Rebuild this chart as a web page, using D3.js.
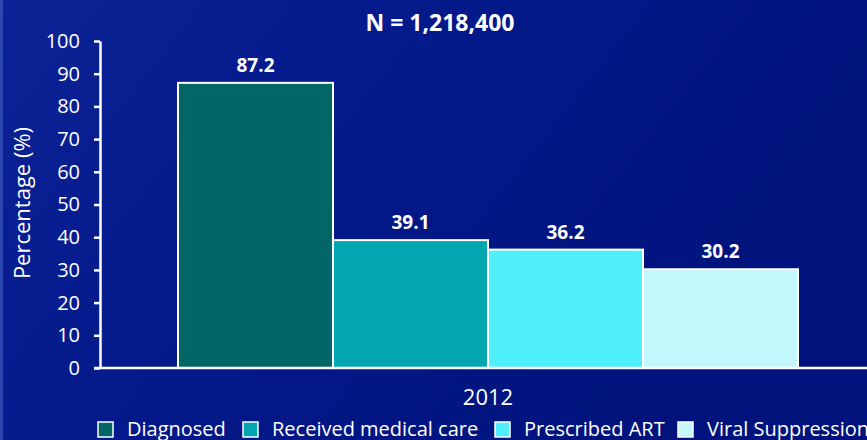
<!DOCTYPE html>
<html>
<head>
<meta charset="utf-8">
<script src="https://cdn.jsdelivr.net/npm/d3@7"></script>
<style>
  body { margin: 0; background: #001480; }
  svg { display: block; font-family: "Open Sans", "Noto Sans", sans-serif; }
</style>
</head>
<body>
<div id="chart"></div>
<script>
const years = ["2012"];
const stages = ["Diagnosed", "Received medical care", "Prescribed ART", "Viral Suppression"];
const values = [87.2, 39.1, 36.2, 30.2];
const colors = ["#036666", "#02a6b0", "#50effc", "#c2f8fc"];
const yTicks = [0, 10, 20, 30, 40, 50, 60, 70, 80, 90, 100];
const title = "N = 1,218,400";

const W = 867, H = 440;
const margin = { top: 41, right: 0, bottom: 72, left: 100 };

const svg = d3.select("#chart")
  .append("svg")
  .attr("width", W)
  .attr("height", H);

// background gradient
const defs = svg.append("defs");
const grad = defs.append("linearGradient")
  .attr("id", "bg")
  .attr("x1", "0").attr("y1", "0")
  .attr("x2", "1").attr("y2", "0.4");
grad.append("stop").attr("offset", "0").attr("stop-color", "#0c2396");
grad.append("stop").attr("offset", "0.45").attr("stop-color", "#04198a");
grad.append("stop").attr("offset", "1").attr("stop-color", "#00137c");

svg.append("rect").attr("width", W).attr("height", H).attr("fill", "url(#bg)");
svg.append("rect").attr("width", 3).attr("height", H).attr("fill", "#2b46b0");

const y = d3.scaleLinear().domain([0, 100]).range([368, margin.top]);

const x0 = d3.scaleBand()
  .domain(years)
  .range([margin.left, 876])
  .paddingOuter(0.1258)
  .paddingInner(0);

const x1 = d3.scaleBand()
  .domain(stages)
  .range([0, x0.bandwidth()]);

const color = d3.scaleOrdinal().domain(stages).range(colors);

const rows = stages.map((s, i) => ({ stage: s, value: values[i] }));

// bars
const g = svg.append("g")
  .selectAll("g")
  .data(years)
  .join("g")
  .attr("transform", d => `translate(${x0(d)},0)`);

g.selectAll("rect")
  .data(rows)
  .join("rect")
  .attr("x", d => x1(d.stage))
  .attr("y", d => y(d.value))
  .attr("width", x1.bandwidth())
  .attr("height", d => y(0) - y(d.value))
  .attr("fill", d => color(d.stage))
  .attr("stroke", "#ffffff")
  .attr("stroke-width", 2);

g.selectAll("text.val")
  .data(rows)
  .join("text")
  .attr("class", "val")
  .attr("x", d => x1(d.stage) + x1.bandwidth() / 2)
  .attr("y", d => y(d.value) - 11)
  .attr("text-anchor", "middle")
  .attr("fill", "#ffffff")
  .attr("font-size", 19)
  .attr("font-weight", "bold")
  .text(d => d.value.toFixed(1));

// y axis
const yAxis = svg.append("g")
  .attr("transform", `translate(${margin.left},0)`)
  .call(d3.axisLeft(y).tickValues(yTicks).tickSize(6).tickPadding(14).tickSizeOuter(0));
yAxis.select(".domain").attr("stroke", "#ffffff").attr("stroke-width", 2.5);
yAxis.selectAll(".tick line").attr("stroke", "#ffffff").attr("stroke-width", 2.5);
yAxis.selectAll(".tick text")
  .attr("fill", "#ffffff")
  .attr("font-size", 20)
  .attr("font-family", "'Open Sans', sans-serif");

// x axis line
const xAxis = svg.append("g")
  .attr("transform", `translate(0,${y(0)})`)
  .call(d3.axisBottom(x0).tickSize(0).tickPadding(21));
xAxis.select(".domain")
  .attr("d", `M${margin.left - 6},0H${W}`)
  .attr("stroke", "#ffffff")
  .attr("stroke-width", 2.5);
xAxis.selectAll(".tick text")
  .attr("fill", "#ffffff")
  .attr("font-size", 22)
  .attr("font-family", "'Open Sans', sans-serif");

// y label
svg.append("text")
  .attr("transform", "translate(30,203) rotate(-90)")
  .attr("text-anchor", "middle")
  .attr("fill", "#ffffff")
  .attr("font-size", 22)
  .text("Percentage (%)");

// title
svg.append("text")
  .attr("x", 440)
  .attr("y", 31)
  .attr("text-anchor", "middle")
  .attr("fill", "#ffffff")
  .attr("font-size", 23)
  .attr("font-weight", "bold")
  .text(title);

// legend
const legendX = [98, 243, 495, 678];
const legend = svg.append("g")
  .selectAll("g")
  .data(stages)
  .join("g")
  .attr("transform", (d, i) => `translate(${legendX[i]},422)`);

legend.append("rect")
  .attr("width", 15)
  .attr("height", 15)
  .attr("fill", d => color(d))
  .attr("stroke", "#ffffff")
  .attr("stroke-width", 1.5);

legend.append("text")
  .attr("x", 29)
  .attr("y", 13.5)
  .attr("fill", "#ffffff")
  .attr("font-size", 20)
  .text(d => d);
</script>
</body>
</html>
